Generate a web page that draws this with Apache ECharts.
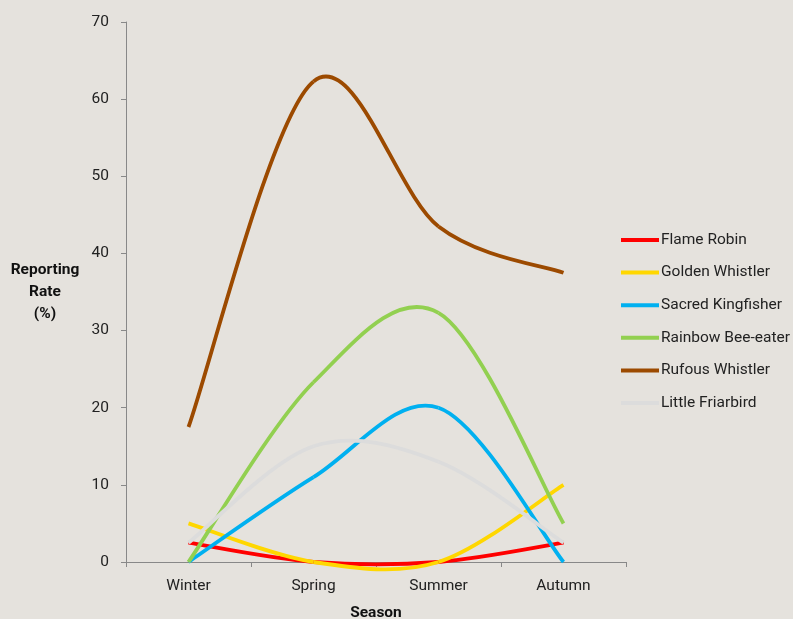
<!DOCTYPE html>
<html><head><meta charset="utf-8">
<script src="https://cdn.jsdelivr.net/npm/echarts@6/dist/echarts.min.js"></script>
<style>html,body{margin:0;padding:0;background:#e5e2dd;}#c{width:793px;height:619px;}</style>
</head><body><div id="c"></div>
<script>
const seasons = ["Winter", "Spring", "Summer", "Autumn"];
const flameRobin = [2.5, 0, 0, 2.5];
const goldenWhistler = [5, 0, 0, 10];
const sacredKingfisher = [0, 11, 20, 0];
const rainbowBeeEater = [0, 23.3, 32.3, 5];
const rufousWhistler = [17.5, 62.3, 43.5, 37.5];
const littleFriarbird = [2.5, 15, 13, 2.5];
const yTicks = [0, 10, 20, 30, 40, 50, 60, 70];
const seriesNames = ["Flame Robin", "Golden Whistler", "Sacred Kingfisher", "Rainbow Bee-eater", "Rufous Whistler", "Little Friarbird"];
const seriesData = [flameRobin, goldenWhistler, sacredKingfisher, rainbowBeeEater, rufousWhistler, littleFriarbird];
const colors = ["#ff0000", "#ffd700", "#00b0f0", "#92d050", "#9c4a00", "#dcdcdc"];

const LW = 3.8;
function makeRender(values, color) {
  return function (params, api) {
    const i = params.dataIndex;
    const n = values.length;
    if (i >= n - 1) return null;
    const P = k => { const j = Math.max(0, Math.min(n - 1, k)); return api.coord([j, values[j]]); };
    const p0 = P(i - 1), p1 = P(i), p2 = P(i + 1), p3 = P(i + 2);
    return {
      type: 'bezierCurve',
      shape: {
        x1: p1[0], y1: p1[1], x2: p2[0], y2: p2[1],
        cpx1: p1[0] + (p2[0] - p0[0]) / 6, cpy1: p1[1] + (p2[1] - p0[1]) / 6,
        cpx2: p2[0] - (p3[0] - p1[0]) / 6, cpy2: p2[1] - (p3[1] - p1[1]) / 6
      },
      style: { stroke: color, lineWidth: LW, fill: null }
    };
  };
}

const chart = echarts.init(document.getElementById('c'));
const font = 'Roboto, "Noto Sans", sans-serif';
const FS = 15.5;
chart.setOption({
  backgroundColor: '#e5e2dd',
  animation: false,
  textStyle: { fontFamily: font },
  grid: { left: 126, right: 167, top: 22, bottom: 57, containLabel: false, outerBoundsMode: 'none' },
  legend: {
    orient: 'vertical', left: 621, top: 232, padding: 0,
    itemWidth: 38, itemHeight: 4, itemGap: 16.6,
    icon: 'rect',
    textStyle: { fontSize: FS, color: '#222', fontFamily: font, padding: [0, 0, 0, -3] },
    data: seriesNames
  },
  xAxis: {
    type: 'category', data: seasons, boundaryGap: true,
    name: 'Season', nameLocation: 'middle', nameGap: 43,
    nameTextStyle: { fontWeight: 'bold', fontSize: FS, color: '#111' },
    axisLine: { lineStyle: { color: '#888', width: 1 } },
    axisTick: { show: true, length: 5, lineStyle: { color: '#888' } },
    axisLabel: { fontSize: FS, color: '#222', margin: 16 }
  },
  yAxis: {
    type: 'value', min: yTicks[0], max: yTicks[yTicks.length - 1], interval: 10,
    name: 'Reporting\nRate\n(%)', nameLocation: 'middle', nameGap: 81, nameRotate: 0,
    nameTextStyle: { fontWeight: 'bold', fontSize: FS, color: '#111', lineHeight: 22, align: 'center', padding: [4, 0, 0, 0] },
    axisLine: { show: true, lineStyle: { color: '#888', width: 1 } },
    axisTick: { show: true, length: 5, lineStyle: { color: '#888' } },
    splitLine: { show: false },
    axisLabel: { fontSize: FS, color: '#222', margin: 17 }
  },
  series: seriesNames.map((n, i) => ({
    name: n, type: 'custom',
    data: seriesData[i].map((v, j) => [j, v]),
    encode: { x: 0, y: 1 },
    clip: false,
    renderItem: makeRender(seriesData[i], colors[i]),
    itemStyle: { color: colors[i] }
  }))
});
</script></body></html>
